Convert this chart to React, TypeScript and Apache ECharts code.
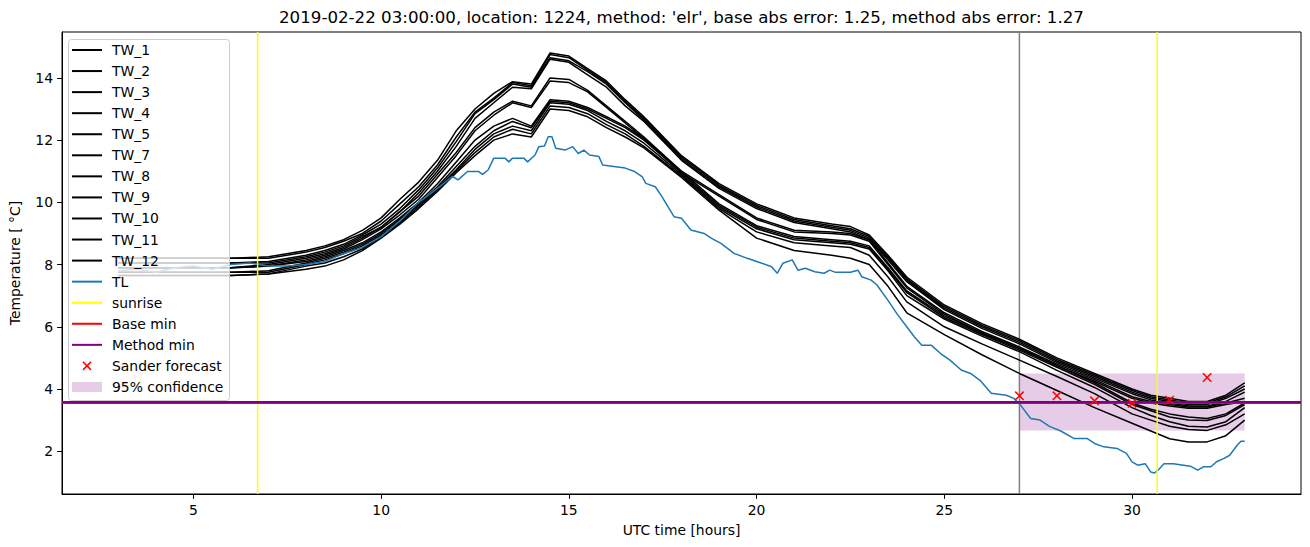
import React, { useEffect, useRef } from "react";
import * as echarts from "echarts";

const TITLE =
  "2019-02-22 03:00:00, location: 1224, method: 'elr', base abs error: 1.25, method abs error: 1.27";
const X_NAME = "UTC time [hours]";
const Y_NAME = "Temperature [ °C]";
const X_MIN = 1.5;
const X_MAX = 34.5;
const Y_MIN = 0.625;
const Y_MAX = 15.475;
const X_TICKS = [5, 10, 15, 20, 25, 30];
const Y_TICKS = [2, 4, 6, 8, 10, 12, 14];

const TW_X = [3, 4, 5, 6, 7, 8, 8.5, 9, 9.5, 10, 10.5, 11, 11.5, 12, 12.5, 13, 13.5, 14, 14.5, 15, 15.5, 16, 16.5, 17, 18, 19, 20, 21, 22, 22.5, 23, 23.5, 24, 25, 26, 27, 28, 29, 30, 30.5, 31, 31.5, 32, 32.5, 33];

const TW_1 = [8.2, 8.2, 8.2, 8.2, 8.25, 8.45, 8.6, 8.8, 9.1, 9.5, 10.1, 10.65, 11.35, 12.3, 13.0, 13.5, 13.88, 13.8, 14.8, 14.7, 14.3, 13.9, 13.3, 12.75, 11.5, 10.6, 9.95, 9.5, 9.3, 9.22, 8.95, 8.3, 7.6, 6.7, 6.1, 5.6, 5.0, 4.5, 4.0, 3.8, 3.7, 3.6, 3.6, 3.8, 4.2];
const TW_4 = [8.2, 8.2, 8.2, 8.2, 8.2, 8.4, 8.55, 8.75, 9.0, 9.4, 9.95, 10.5, 11.2, 12.1, 12.9, 13.35, 13.85, 13.75, 14.75, 14.65, 14.25, 13.85, 13.25, 12.7, 11.45, 10.55, 9.9, 9.45, 9.25, 9.15, 8.9, 8.25, 7.55, 6.65, 6.05, 5.55, 4.95, 4.45, 3.95, 3.75, 3.65, 3.55, 3.55, 3.75, 4.1];
const TW_7 = [8.05, 8.05, 8.05, 8.05, 8.1, 8.3, 8.45, 8.65, 8.95, 9.3, 9.8, 10.4, 11.1, 11.95, 12.85, 13.3, 13.8, 13.7, 14.65, 14.55, 14.2, 13.8, 13.2, 12.65, 11.4, 10.5, 9.85, 9.4, 9.2, 9.1, 8.85, 8.2, 7.5, 6.6, 6.0, 5.5, 4.9, 4.4, 3.9, 3.7, 3.6, 3.5, 3.5, 3.7, 4.0];
const TW_11 = [8.05, 8.05, 8.05, 8.05, 8.05, 8.25, 8.4, 8.6, 8.9, 9.2, 9.7, 10.3, 11.0, 11.8, 12.7, 13.2, 13.7, 13.65, 14.6, 14.5, 14.1, 13.7, 13.1, 12.6, 11.35, 10.45, 9.8, 9.35, 9.15, 9.05, 8.8, 8.15, 7.45, 6.55, 5.95, 5.45, 4.85, 4.35, 3.85, 3.65, 3.55, 3.45, 3.45, 3.6, 3.9];
const TW_2 = [7.9, 7.9, 7.9, 7.9, 8.0, 8.2, 8.35, 8.55, 8.85, 9.2, 9.7, 10.2, 10.9, 11.6, 12.4, 12.9, 13.25, 13.1, 14.0, 13.95, 13.6, 13.1, 12.6, 12.1, 11.0, 10.25, 9.5, 9.1, 9.05, 9.0, 8.8, 8.05, 7.3, 6.45, 5.85, 5.35, 4.8, 4.3, 3.75, 3.6, 3.5, 3.42, 3.42, 3.55, 3.7];
const TW_9 = [7.9, 7.9, 7.9, 7.9, 7.95, 8.15, 8.3, 8.5, 8.8, 9.15, 9.6, 10.1, 10.8, 11.5, 12.3, 12.8, 13.2, 13.05, 13.9, 13.85, 13.55, 13.05, 12.55, 12.05, 10.95, 10.2, 9.45, 9.05, 9.0, 8.95, 8.75, 8.0, 7.25, 6.4, 5.8, 5.3, 4.75, 4.25, 3.7, 3.55, 3.45, 3.38, 3.38, 3.5, 3.6];
const TW_3 = [7.9, 7.9, 7.9, 7.9, 7.95, 8.1, 8.25, 8.45, 8.7, 9.05, 9.5, 10.0, 10.6, 11.3, 12.0, 12.45, 12.7, 12.45, 13.3, 13.25, 13.05, 12.75, 12.45, 12.05, 11.0, 9.95, 9.25, 8.9, 8.8, 8.75, 8.6, 7.9, 7.15, 6.35, 5.8, 5.3, 4.75, 4.2, 3.55, 3.35, 3.2, 3.1, 3.05, 3.2, 3.55];
const TW_5 = [7.75, 7.75, 7.75, 7.75, 7.8, 8.05, 8.2, 8.4, 8.65, 9.0, 9.45, 9.95, 10.5, 11.15, 11.8, 12.3, 12.6, 12.4, 13.25, 13.2, 13.0, 12.7, 12.4, 12.0, 10.95, 9.9, 9.2, 8.85, 8.75, 8.7, 8.55, 7.85, 7.1, 6.3, 5.75, 5.25, 4.7, 4.15, 3.5, 3.3, 3.1, 3.0, 2.99, 3.15, 3.5];
const TW_8 = [7.75, 7.75, 7.75, 7.75, 7.75, 8.0, 8.15, 8.35, 8.6, 8.95, 9.4, 9.9, 10.45, 11.05, 11.7, 12.2, 12.45, 12.3, 13.2, 13.15, 12.95, 12.6, 12.3, 11.9, 10.9, 9.85, 9.15, 8.8, 8.7, 8.65, 8.5, 7.8, 7.0, 6.25, 5.7, 5.2, 4.6, 4.05, 3.4, 3.15, 2.95, 2.8, 2.78, 2.95, 3.4];
const TW_10 = [7.65, 7.65, 7.65, 7.65, 7.7, 7.95, 8.05, 8.25, 8.5, 8.9, 9.35, 9.85, 10.4, 11.0, 11.6, 12.1, 12.35, 12.2, 13.1, 13.05, 12.85, 12.5, 12.2, 11.8, 10.85, 9.8, 9.05, 8.7, 8.6, 8.55, 8.3, 7.6, 6.8, 6.0, 5.45, 4.93, 4.4, 3.85, 3.2, 3.0, 2.8, 2.7, 2.67, 2.85, 3.2];
const TW_12 = [7.65, 7.65, 7.65, 7.65, 7.7, 7.85, 7.95, 8.15, 8.45, 8.85, 9.3, 9.8, 10.35, 10.95, 11.5, 12.0, 12.2, 12.1, 13.0, 12.95, 12.75, 12.4, 12.1, 11.75, 10.8, 9.75, 8.85, 8.45, 8.3, 8.2, 8.0, 7.3, 6.45, 5.75, 5.1, 4.5, 3.95, 3.4, 2.9, 2.65, 2.4, 2.3, 2.3, 2.5, 3.0];

const TW_NAMES = ["TW_1", "TW_2", "TW_3", "TW_4", "TW_5", "TW_7", "TW_8", "TW_9", "TW_10", "TW_11", "TW_12"];
const TW_VALUES = [TW_1, TW_2, TW_3, TW_4, TW_5, TW_7, TW_8, TW_9, TW_10, TW_11, TW_12];

const TL_X = [3, 3.5, 4, 4.5, 5, 5.5, 6, 6.5, 7, 7.5, 8, 8.5, 9, 9.5, 10, 10.5, 11, 11.5, 11.9, 12.05, 12.3, 12.6, 12.7, 12.85, 13.0, 13.3, 13.4, 13.5, 13.8, 13.9, 14.1, 14.2, 14.35, 14.45, 14.55, 14.65, 14.9, 15.1, 15.25, 15.4, 15.55, 15.8, 15.9, 16.2, 16.5, 16.75, 16.95, 17.05, 17.3, 17.45, 17.8, 18.0, 18.25, 18.6, 18.8, 19.05, 19.4, 19.75, 20.1, 20.4, 20.55, 20.7, 20.95, 21.1, 21.3, 21.55, 21.8, 21.95, 22.1, 22.5, 22.7, 22.8, 23.05, 23.2, 23.5, 23.75, 24.0, 24.2, 24.4, 24.65, 24.9, 25.15, 25.45, 25.7, 25.95, 26.25, 26.65, 26.85, 27.0, 27.3, 27.55, 27.8, 28.1, 28.45, 28.8, 29.0, 29.25, 29.6, 29.85, 30.0, 30.15, 30.35, 30.5, 30.6, 30.7, 30.85, 31.1, 31.55, 31.75, 31.9, 32.1, 32.25, 32.45, 32.6, 32.8, 32.9, 33.0];
const TL_Y = [7.8, 7.85, 7.75, 7.9, 7.95, 7.85, 8.0, 8.05, 7.95, 7.95, 8.0, 8.1, 8.35, 8.55, 8.9, 9.4, 10.0, 10.45, 10.83, 10.72, 10.99, 10.99, 10.9, 11.04, 11.42, 11.42, 11.3, 11.42, 11.42, 11.3, 11.52, 11.79, 11.81, 12.11, 12.11, 11.74, 11.68, 11.79, 11.57, 11.68, 11.52, 11.47, 11.2, 11.15, 11.1, 10.99, 10.83, 10.61, 10.5, 10.24, 9.54, 9.49, 9.11, 9.0, 8.84, 8.68, 8.36, 8.2, 8.06, 7.93, 7.72, 8.04, 8.15, 7.82, 7.88, 7.77, 7.72, 7.82, 7.75, 7.75, 7.82, 7.61, 7.5, 7.35, 6.85, 6.4, 6.0, 5.68, 5.41, 5.41, 5.14, 4.93, 4.61, 4.5, 4.28, 3.86, 3.8, 3.7, 3.53, 3.05, 3.0, 2.8, 2.65, 2.41, 2.41, 2.25, 2.14, 2.09, 1.93, 1.66, 1.55, 1.6, 1.33, 1.3, 1.4, 1.6, 1.6, 1.52, 1.39, 1.5, 1.5, 1.66, 1.77, 1.87, 2.19, 2.32, 2.32];

const SUNRISE = [6.71, 30.67];
const FORECAST_START = 27.0;
const BASE_MIN = 3.545;
const METHOD_MIN = 3.58;
const SANDER_X = [27, 28, 29, 30, 31, 32];
const SANDER_Y = [3.78, 3.78, 3.62, 3.54, 3.64, 4.37];
const CONF_X = [27, 33];
const CONF_Y = [2.67, 4.5];

const FONT = "DejaVu Sans";
const BLUE = "#1f77b4";
const CONF_COLOR = "rgba(128,0,128,0.2)";

const LEGEND_ITEMS: { name: string; kind: string; color: string }[] = [
  ...TW_NAMES.map((n) => ({ name: n, kind: "line", color: "#000000" })),
  { name: "TL", kind: "line", color: BLUE },
  { name: "sunrise", kind: "line", color: "#ffff00" },
  { name: "Base min", kind: "line", color: "#ff0000" },
  { name: "Method min", kind: "line", color: "#800080" },
  { name: "Sander forecast", kind: "x", color: "#ff0000" },
  { name: "95% confidence", kind: "patch", color: CONF_COLOR },
];

function buildLegend() {
  const x0 = 68;
  const y0 = 39;
  const w = 161;
  const h = 361;
  const first = 50;
  const step = 21.06;
  const children: any[] = [
    {
      type: "rect",
      shape: { x: x0 + 0.5, y: y0 + 0.5, width: w, height: h, r: 3 },
      style: { fill: "rgba(255,255,255,0.8)", stroke: "#cccccc", lineWidth: 1 },
      z: 100,
    },
  ];
  LEGEND_ITEMS.forEach((it, i) => {
    const cy = first + i * step;
    if (it.kind === "line") {
      children.push({
        type: "line",
        shape: { x1: 72, y1: cy, x2: 102, y2: cy },
        style: { stroke: it.color, lineWidth: 2 },
        z: 101,
      });
    } else if (it.kind === "x") {
      const s = 4;
      children.push({
        type: "line",
        shape: { x1: 87 - s, y1: cy - s, x2: 87 + s, y2: cy + s },
        style: { stroke: it.color, lineWidth: 1.5 },
        z: 101,
      });
      children.push({
        type: "line",
        shape: { x1: 87 - s, y1: cy + s, x2: 87 + s, y2: cy - s },
        style: { stroke: it.color, lineWidth: 1.5 },
        z: 101,
      });
    } else {
      children.push({
        type: "rect",
        shape: { x: 72, y: cy - 5, width: 30, height: 10 },
        style: { fill: it.color },
        z: 101,
      });
    }
    children.push({
      type: "text",
      style: {
        text: it.name,
        x: 112,
        y: cy,
        fill: "#000000",
        fontSize: 13.9,
        fontFamily: FONT,
        align: "left",
        verticalAlign: "middle",
        textAlign: "left",
        textVerticalAlign: "middle",
      },
      z: 101,
    });
  });
  return children;
}

export default function App() {
  const ref = useRef<HTMLDivElement>(null);

  useEffect(() => {
    if (!ref.current) return;
    const chart = echarts.init(ref.current, undefined, { renderer: "svg" });

    const twSeries = TW_VALUES.map((vals, k) => ({
      name: TW_NAMES[k],
      type: "line",
      data: TW_X.map((x, i) => [x, vals[i]]),
      showSymbol: false,
      symbol: "none",
      lineStyle: { color: "#000000", width: 1.5 },
      itemStyle: { color: "#000000" },
      z: 3,
      silent: true,
    }));

    const vline = (name: string, x: number, color: string, z: number) => ({
      name,
      type: "line",
      data: [
        [x, Y_MIN],
        [x, Y_MAX],
      ],
      symbol: "none",
      lineStyle: { color, width: 1.5 },
      z,
      silent: true,
    });
    const hline = (name: string, y: number, color: string, z: number, width: number) => ({
      name,
      type: "line",
      data: [
        [X_MIN, y],
        [X_MAX, y],
      ],
      symbol: "none",
      lineStyle: { color, width },
      z,
      silent: true,
    });

    const option: any = {
      animation: false,
      backgroundColor: "#ffffff",
      title: {
        text: TITLE,
        left: 279,
        top: 9,
        padding: 0,
        textStyle: { fontSize: 16.67, fontWeight: "normal", fontFamily: FONT, color: "#000000" },
      },
      grid: {
        left: 61,
        right: 9,
        top: 32,
        bottom: 53,
        show: true,
        borderColor: "#000000",
        borderWidth: 1,
        backgroundColor: "transparent",
        containLabel: false,
      },
      xAxis: {
        type: "value",
        min: X_MIN,
        max: X_MAX,
        name: X_NAME,
        nameLocation: "middle",
        nameGap: 29,
        nameTextStyle: { fontSize: 13.9, fontFamily: FONT, color: "#000000" },
        axisLine: { show: true, onZero: false, lineStyle: { color: "#000000", width: 1 } },
        axisTick: {
          show: true,
          length: 4.9,
          lineStyle: { color: "#000000", width: 1 },
          customValues: X_TICKS,
        },
        axisLabel: {
          show: true,
          margin: 9,
          fontSize: 13.9,
          fontFamily: FONT,
          color: "#000000",
          customValues: X_TICKS,
        },
        splitLine: { show: false },
      },
      yAxis: {
        type: "value",
        min: Y_MIN,
        max: Y_MAX,
        name: Y_NAME,
        nameLocation: "middle",
        nameGap: 40,
        nameRotate: 90,
        nameTextStyle: { fontSize: 13.9, fontFamily: FONT, color: "#000000" },
        axisLine: { show: true, onZero: false, lineStyle: { color: "#000000", width: 1 } },
        axisTick: {
          show: true,
          length: 4.9,
          lineStyle: { color: "#000000", width: 1 },
          customValues: Y_TICKS,
        },
        axisLabel: {
          show: true,
          margin: 9,
          fontSize: 13.9,
          fontFamily: FONT,
          color: "#000000",
          customValues: Y_TICKS,
        },
        splitLine: { show: false },
      },
      series: [
        {
          name: "95% confidence",
          type: "custom",
          data: [[CONF_X[0], CONF_Y[0], CONF_X[1], CONF_Y[1]]],
          encode: { x: [0, 2], y: [1, 3] },
          z: 1,
          silent: true,
          renderItem: (params: any, api: any) => {
            const p1 = api.coord([api.value(0), api.value(3)]);
            const p2 = api.coord([api.value(2), api.value(1)]);
            return {
              type: "rect",
              shape: { x: p1[0], y: p1[1], width: p2[0] - p1[0], height: p2[1] - p1[1] },
              style: { fill: CONF_COLOR },
            };
          },
        },
        vline("forecast start", FORECAST_START, "#808080", 2),
        ...twSeries,
        {
          name: "TL",
          type: "line",
          data: TL_X.map((x, i) => [x, TL_Y[i]]),
          symbol: "none",
          lineStyle: { color: BLUE, width: 1.5 },
          z: 4,
          silent: true,
        },
        vline("sunrise", SUNRISE[0], "#ffff00", 5),
        vline("sunrise", SUNRISE[1], "#ffff00", 5),
        hline("Base min", BASE_MIN, "#ff0000", 6, 1.5),
        hline("Method min", METHOD_MIN, "#800080", 7, 2),
        {
          name: "Sander forecast",
          type: "custom",
          data: SANDER_X.map((x, i) => [x, SANDER_Y[i]]),
          encode: { x: 0, y: 1 },
          z: 8,
          silent: true,
          renderItem: (params: any, api: any) => {
            const p = api.coord([api.value(0), api.value(1)]);
            const s = 4.2;
            return {
              type: "group",
              children: [
                {
                  type: "line",
                  shape: { x1: p[0] - s, y1: p[1] - s, x2: p[0] + s, y2: p[1] + s },
                  style: { stroke: "#ff0000", lineWidth: 1.5 },
                },
                {
                  type: "line",
                  shape: { x1: p[0] - s, y1: p[1] + s, x2: p[0] + s, y2: p[1] - s },
                  style: { stroke: "#ff0000", lineWidth: 1.5 },
                },
              ],
            };
          },
        },
      ],
      graphic: [
        {
          type: "group",
          z: 100,
          children: buildLegend(),
        },
      ],
    };

    chart.setOption(option);
    return () => {
      chart.dispose();
    };
  }, []);

  return (
    <div
      ref={ref}
      style={{ position: "fixed", left: 0, top: 0, width: "1310px", height: "547px", background: "#fff" }}
    />
  );
}
